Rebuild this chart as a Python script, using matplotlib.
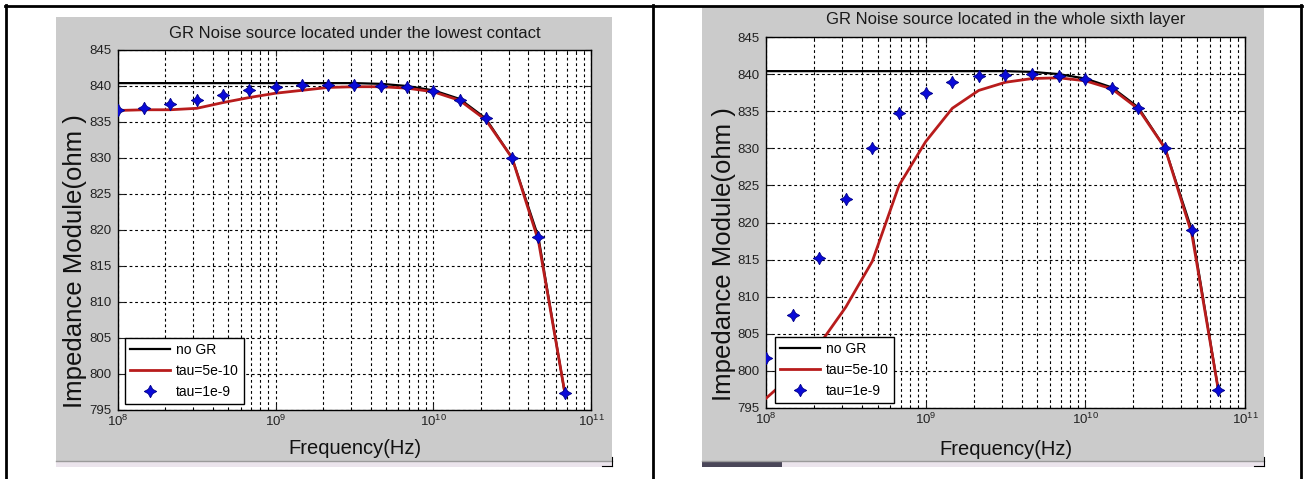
import matplotlib
matplotlib.use("Agg")
import matplotlib.pyplot as plt
from matplotlib.patches import Rectangle
from matplotlib.lines import Line2D
from matplotlib.ticker import LogLocator, NullFormatter

plt.rcParams["font.family"] = ["Liberation Sans", "DejaVu Sans"]
plt.rcParams["mathtext.default"] = "regular"

# frequency points (Hz), 6 per decade
freq = [1.0e8, 1.47e8, 2.15e8, 3.16e8, 4.64e8, 6.81e8,
        1.0e9, 1.47e9, 2.15e9, 3.16e9, 4.64e9, 6.81e9,
        1.0e10, 1.47e10, 2.15e10, 3.16e10, 4.64e10, 6.81e10]

# left: GR source under the lowest contact
left_no_gr = [840.4, 840.4, 840.4, 840.4, 840.4, 840.4, 840.4, 840.4, 840.4,
              840.4, 840.3, 840.0, 839.4, 838.2, 835.5, 830.0, 819.0, 797.4]
left_tau_5e10 = [836.6, 836.7, 836.7, 836.9, 837.7, 838.4, 839.0, 839.4, 839.8,
                 839.9, 839.9, 839.7, 839.2, 838.0, 835.3, 830.0, 818.5, 797.5]
left_tau_1e9 = [836.7, 837.0, 837.5, 838.0, 838.8, 839.4, 839.9, 840.1, 840.1,
                840.1, 840.0, 839.8, 839.3, 838.1, 835.5, 830.0, 819.0, 797.4]

# right: GR source in the whole sixth layer
right_no_gr = [840.4, 840.4, 840.4, 840.4, 840.4, 840.4, 840.4, 840.4, 840.4,
               840.4, 840.3, 840.0, 839.4, 838.2, 835.5, 830.0, 819.0, 797.4]
right_tau_5e10 = [796.3, 799.5, 803.5, 808.6, 814.8, 825.0, 830.9, 835.4, 837.8,
                  838.9, 839.4, 839.5, 839.1, 838.0, 835.3, 830.0, 818.5, 797.4]
right_tau_1e9 = [801.8, 807.5, 815.2, 823.2, 830.0, 834.7, 837.4, 838.9, 839.7,
                 839.9, 840.0, 839.7, 839.3, 838.1, 835.4, 830.0, 819.0, 797.4]

titles = ["GR Noise source located under the lowest contact",
          "GR Noise source located in the whole sixth layer"]
labels = ["no GR", "tau=5e-10", "tau=1e-9"]
yticks = [795, 800, 805, 810, 815, 820, 825, 830, 835, 840, 845]

W, H = 1308, 479
fig = plt.figure(figsize=(W / 100, H / 100), dpi=100)
fig.patch.set_facecolor("white")


def box(x0, y0, x1, y1):
    return [x0 / W, 1 - y1 / H, (x1 - x0) / W, (y1 - y0) / H]


def hline(x0, x1, y, **kw):
    fig.add_artist(Line2D([x0 / W, x1 / W], [1 - y / H, 1 - y / H],
                          transform=fig.transFigure, **kw))


def vline(x, y0, y1, **kw):
    fig.add_artist(Line2D([x / W, x / W], [1 - y0 / H, 1 - y1 / H],
                          transform=fig.transFigure, **kw))


def panel(pbox, abox, title, no_gr, tau1, tau2, leg_xy, ylab_x, xlab_y, title_y):
    # gray matlab window
    fig.add_artist(Rectangle((pbox[0] / W, 1 - pbox[3] / H),
                             (pbox[2] - pbox[0]) / W, (pbox[3] - pbox[1]) / H,
                             transform=fig.transFigure, facecolor="#cbcbcb",
                             edgecolor="none", zorder=0))
    fig.add_artist(Rectangle((pbox[0] / W, 1 - (pbox[3] + 6) / H),
                             (pbox[2] - pbox[0]) / W, 6 / H,
                             transform=fig.transFigure, facecolor="#ebe4ec",
                             edgecolor="none", zorder=0))
    hline(pbox[0], pbox[2], pbox[3], color="#9a9a9a", lw=1)
    # little corner mark
    hline(pbox[2] - 10, pbox[2], pbox[3] + 5, color="k", lw=0.8)
    vline(pbox[2], pbox[3] - 4, pbox[3] + 5, color="k", lw=0.8)

    ax = fig.add_axes(box(*abox))
    ax.set_facecolor("white")
    ax.semilogx(freq, no_gr, color="black", lw=1.6, label=labels[0], zorder=3)
    ax.semilogx(freq, tau1, color="#b81c1c", lw=2.0, label=labels[1], zorder=4)
    ax.semilogx(freq, tau2, ls="none", marker=(4, 1, 0), ms=9,
                markerfacecolor="#0a0ad8", markeredgecolor="#00008a", mew=0.6,
                label=labels[2], zorder=5)

    ax.set_xlim(1e8, 1e11)
    ax.set_ylim(795, 845)
    ax.set_yticks(yticks)
    ax.xaxis.set_major_locator(LogLocator(base=10, numticks=10))
    ax.xaxis.set_minor_locator(LogLocator(base=10, subs=range(2, 10), numticks=20))
    ax.xaxis.set_minor_formatter(NullFormatter())

    gkw = dict(color="black", lw=0.8, ls=(0, (2.5, 2.5)))
    ax.grid(True, which="major", axis="both", **gkw)
    ax.grid(True, which="minor", axis="x", **gkw)
    ax.set_axisbelow(True)

    ax.tick_params(which="both", direction="in", top=True, right=True,
                   labelsize=9.5, colors="black")
    ax.tick_params(which="major", length=4)
    ax.tick_params(which="minor", length=2.5)
    ax.tick_params(axis="y", pad=4.5, colors="#222222")
    ax.tick_params(axis="x", pad=2.5, colors="#222222")
    for s in ax.spines.values():
        s.set_linewidth(1.0)
        s.set_color("black")

    ax.set_title(title, fontsize=12, color="#1a1a1a", y=title_y, pad=0,
                 verticalalignment="center")
    ax.set_xlabel("Frequency(Hz)", fontsize=14.5, color="#111111", va="center")
    ax.xaxis.set_label_coords(0.5, xlab_y)
    ax.set_ylabel("Impedance Module(ohm )", fontsize=18.5, color="#111111",
                  va="center")
    ax.yaxis.set_label_coords(ylab_x, 0.414)

    leg = ax.legend(loc="lower left", bbox_to_anchor=leg_xy, borderaxespad=0,
                    fancybox=False, edgecolor="black", framealpha=1,
                    fontsize=10, handlelength=2.9, handletextpad=0.4,
                    borderpad=0.35, labelspacing=0.5, numpoints=1)
    leg.get_frame().set_linewidth(1.0)
    leg.set_zorder(10)
    return ax


panel((56, 17, 612, 461), (118, 50, 591, 410), titles[0],
      left_no_gr, left_tau_5e10, left_tau_1e9,
      (0.015, 0.017), -0.091, -0.106, 1.047)
panel((702, 7, 1264, 461), (766, 37, 1245, 408), titles[1],
      right_no_gr, right_tau_5e10, right_tau_1e9,
      (0.019, 0.0135), -0.088, -0.113, 1.046)

# dark strip at the bottom left of the right window
fig.add_artist(Rectangle((702 / W, 1 - 467 / H), 80 / W, 6 / H,
                         transform=fig.transFigure, facecolor="#4a4658",
                         edgecolor="none", zorder=1))

# table borders
bkw = dict(color="black", lw=2.0)
hline(5, 1302, 6, **bkw)
vline(6, 5, 479, **bkw)
vline(653, 5, 479, **bkw)
vline(1301, 5, 479, **bkw)

fig.savefig("out.png", dpi=100)
